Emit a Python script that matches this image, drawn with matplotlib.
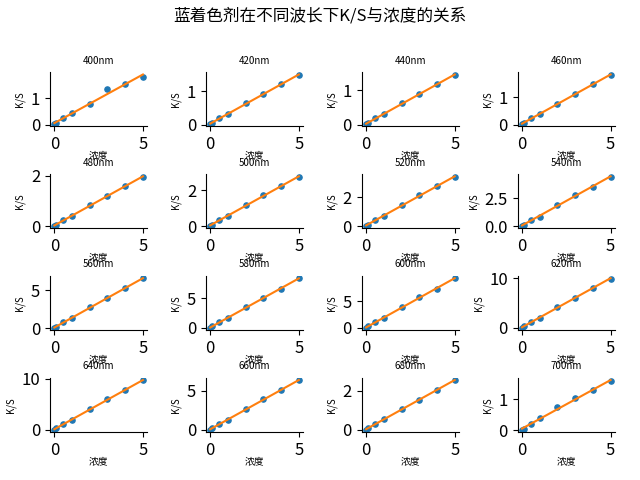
import numpy as np
import matplotlib
matplotlib.use("Agg")
import matplotlib.pyplot as plt

plt.rcParams['font.family'] = ['Noto Sans CJK SC', 'DejaVu Sans']
plt.rcParams['axes.unicode_minus'] = False

wavelengths = ["400nm", "420nm", "440nm", "460nm", "480nm", "500nm", "520nm", "540nm",
               "560nm", "580nm", "600nm", "620nm", "640nm", "660nm", "680nm", "700nm"]
conc = [0, 0.1, 0.5, 1, 2, 3, 4, 5]
ks_400 = [0.02, 0.05, 0.24, 0.43, 0.79, 1.34, 1.52, 1.80]
ks_420 = [0.02, 0.05, 0.19, 0.31, 0.65, 0.91, 1.22, 1.48]
ks_440 = [0.02, 0.04, 0.19, 0.30, 0.63, 0.88, 1.19, 1.44]
ks_460 = [0.02, 0.05, 0.24, 0.38, 0.76, 1.12, 1.47, 1.82]
ks_480 = [0.02, 0.06, 0.24, 0.42, 0.85, 1.18, 1.61, 1.95]
ks_500 = [0.03, 0.08, 0.34, 0.59, 1.19, 1.72, 2.25, 2.71]
ks_520 = [0.03, 0.10, 0.42, 0.73, 1.49, 2.15, 2.82, 3.40]
ks_540 = [0.04, 0.15, 0.54, 0.86, 1.92, 2.78, 3.53, 4.40]
ks_560 = [0.05, 0.20, 0.76, 1.27, 2.76, 4.03, 5.30, 6.57]
ks_580 = [0.05, 0.25, 1.00, 1.60, 3.50, 5.10, 6.60, 8.40]
ks_600 = [0.06, 0.30, 1.10, 1.80, 4.00, 5.80, 7.40, 9.40]
ks_620 = [0.06, 0.30, 1.20, 2.00, 4.30, 6.10, 8.00, 9.90]
ks_640 = [0.05, 0.30, 1.07, 2.00, 4.07, 5.94, 7.80, 9.68]
ks_660 = [0.05, 0.20, 0.70, 1.30, 2.70, 3.90, 5.10, 6.30]
ks_680 = [0.02, 0.08, 0.30, 0.55, 1.05, 1.55, 2.05, 2.55]
ks_700 = [0.02, 0.05, 0.20, 0.38, 0.75, 1.02, 1.28, 1.58]

series = [ks_400, ks_420, ks_440, ks_460, ks_480, ks_500, ks_520, ks_540,
          ks_560, ks_580, ks_600, ks_620, ks_640, ks_660, ks_680, ks_700]

yticks_list = [[0, 1], [0, 1], [0, 1], [0, 1],
               [0, 2], [0, 2], [0, 2], [0.0, 2.5],
               [0, 5], [0, 5], [0, 5], [0, 10],
               [0, 10], [0, 5], [0, 2], [0, 1]]
xticks = [0, 5]

fig, axes = plt.subplots(4, 4, figsize=(6.4, 4.8), dpi=100)
fig.subplots_adjust(left=0.078, right=0.961, top=0.85, bottom=0.10,
                    wspace=0.6, hspace=0.87)
x = np.array(conc)
for ax, name, ys, yt in zip(axes.flat, wavelengths, series, yticks_list):
    y = np.array(ys)
    ax.scatter(x, y, s=14, color='#1f77b4', zorder=2)
    k, b = np.polyfit(x, y, 1)
    xx = np.array([x.min(), x.max()])
    ax.plot(xx, k * xx + b, color='#ff7f0e', lw=1.5, zorder=3)
    ax.set_title(name, fontsize=7)
    ax.set_xlabel('浓度', fontsize=7, labelpad=-2)
    ax.set_ylabel('K/S', fontsize=7)
    ax.set_xticks(xticks)
    ax.set_yticks(yt)
    if isinstance(yt[1], float) and yt[1] % 1:
        ax.set_yticklabels([f"{v:.1f}" for v in yt])
    ax.tick_params(labelsize=12)
    ax.spines['top'].set_visible(False)
    ax.spines['right'].set_visible(False)

fig.suptitle('蓝着色剂在不同波长下K/S与浓度的关系', fontsize=12, y=0.985)
fig.savefig('out.png', dpi=100)
